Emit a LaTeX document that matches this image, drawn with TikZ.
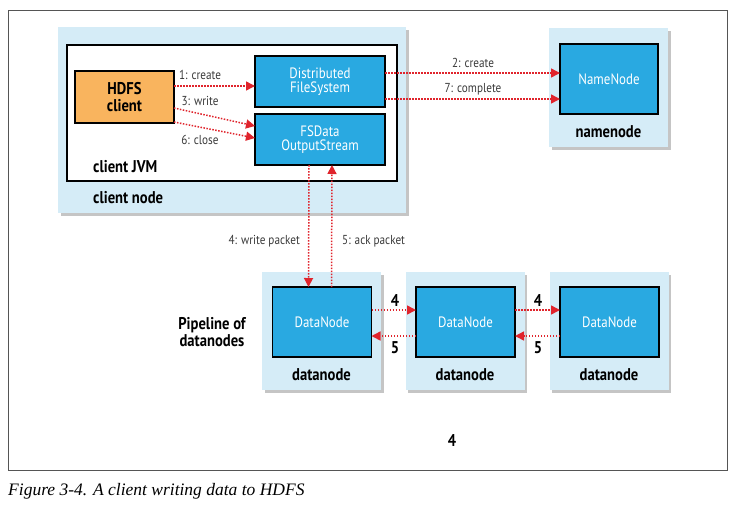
\documentclass[tikz,border=0pt]{standalone}
\usepackage{fontspec}
\setmainfont{PT Sans}[FakeStretch=0.86]
\newfontfamily\capfont{Liberation Serif}
\usetikzlibrary{arrows.meta,shadows,calc}
\definecolor{lightbox}{HTML}{D5ECF7}
\definecolor{darkbox}{HTML}{29A9E1}
\definecolor{orangebox}{HTML}{F9B45E}
\definecolor{redarr}{HTML}{E0242C}
\definecolor{labelgray}{HTML}{3A3A3A}
\definecolor{framegray}{HTML}{555555}
\begin{document}
\begin{tikzpicture}[x=1pt,y=-1pt,
  outerbox/.style={fill=lightbox,draw=none,inner sep=0,outer sep=0,
    drop shadow={shadow xshift=2.5pt,shadow yshift=-2.5pt,fill=black!45}},
  innerbox/.style={fill=darkbox,draw=black,line width=1.6pt,inner sep=0,outer sep=0,
    text=white,align=center,font=\fontsize{15}{16}\selectfont},
  jvmbox/.style={fill=white,draw=black,line width=1.4pt,inner sep=0,outer sep=0},
  clientbox/.style={fill=orangebox,draw=black,line width=1.6pt,inner sep=0,outer sep=0,
    align=center,font=\bfseries\fontsize{17}{18}\selectfont},
  arr/.style={draw=redarr,line width=1.5pt,dash pattern=on 1.5pt off 1.5pt,
    -{Triangle[length=9pt,width=9pt,fill=redarr]}},
  lbl/.style={text=labelgray,font=\fontsize{13}{14}\selectfont,inner sep=0},
  blbl/.style={text=black,font=\bfseries\fontsize{17}{18}\selectfont,inner sep=0,align=center},
]
\useasboundingbox (0,0) rectangle (735,507);
% outer frame
\node[draw=framegray,line width=0.9pt,minimum width=719pt,minimum height=460pt,inner sep=0] (frame) at (367.5,240) {};
% client node
\node[outerbox,minimum width=348pt,minimum height=186pt] (clientnode) at (232,120) {};
\node[jvmbox,minimum width=330pt,minimum height=136pt] (jvm) at (232,113) {};
\node[clientbox,minimum width=99pt,minimum height=52pt] (hdfs) at (124.5,97) {HDFS\\[-1pt]client};
\node[innerbox,minimum width=130pt,minimum height=51pt] (dfs) at (320,81.5) {Distributed\\[-2pt]FileSystem};
\node[innerbox,minimum width=130pt,minimum height=51pt] (fsd) at (320,139.5) {FSData\\[-2pt]OutputStream};
\node[blbl,anchor=west] (jvmlbl) at (93,167) {client JVM};
\node[blbl,anchor=west] (cnlbl) at (93,198) {client node};
% namenode
\node[outerbox,minimum width=119pt,minimum height=119pt] (nnbox) at (608.5,87.5) {};
\node[innerbox,minimum width=98pt,minimum height=70pt] (nn) at (609,79) {NameNode};
\node[blbl] (nnlbl) at (608.5,132) {namenode};
% datanodes
\foreach \i/\x in {1/321.5,2/465,3/609}{
  \node[outerbox,minimum width=119pt,minimum height=118pt] (dnbox\i) at (\x,331) {};
  \node[innerbox,minimum width=99pt,minimum height=70pt] (dn\i) at (\x+0.5,322) {DataNode};
  \node[blbl] (dnlbl\i) at (\x,375) {datanode};
}
\node[blbl] (pipe) at (212,332) {Pipeline of\\[-1pt]datanodes};
% arrows inside client
\draw[arr] ([yshift=11pt]hdfs.east) -- ([yshift=-4.5pt]dfs.west);
\draw[arr] ([yshift=-11pt]hdfs.east) -- ([yshift=13.5pt]fsd.west);
\draw[arr] ([yshift=-25pt]hdfs.east) -- ([yshift=1.5pt]fsd.west);
\node[lbl] (l1) at (200,75) {1: create};
\node[lbl] (l3) at (200,101) {3: write};
\node[lbl] (l6) at (200,140) {6: close};
% to namenode
\draw[arr] ([yshift=8.5pt]dfs.east) -- ([yshift=6pt]nn.west);
\draw[arr] ([yshift=-17.5pt]dfs.east) -- ([yshift=-20pt]nn.west);
\node[lbl] (l2) at (473,63) {2: create};
\node[lbl] (l7) at (473,89) {7: complete};
% write / ack packet
\draw[arr] ([xshift=-11pt]fsd.south) -- ([xshift=-13.5pt]dn1.north);
\draw[arr] ([xshift=9.5pt]dn1.north) -- ([xshift=12pt]fsd.south);
\node[lbl,anchor=east] (l4) at (300,241) {4: write packet};
\node[lbl,anchor=west] (l5) at (342,241) {5: ack packet};
% pipeline arrows
\draw[arr] ([yshift=12pt]dn1.east) -- ([yshift=12pt]dn2.west);
\draw[arr] ([yshift=-14pt]dn2.west) -- ([yshift=-14pt]dn1.east);
\draw[arr] ([yshift=12pt]dn2.east) -- ([yshift=12pt]dn3.west);
\draw[arr] ([yshift=-14pt]dn3.west) -- ([yshift=-14pt]dn2.east);
\node[blbl] (p41) at (395,300) {4};
\node[blbl] (p51) at (395,348) {5};
\node[blbl] (p42) at (538,300) {4};
\node[blbl] (p52) at (538,348) {5};
\node[blbl] (bottom4) at (452,440) {4};
% caption
\node[anchor=west,inner sep=0,font=\capfont\itshape\fontsize{17.5}{18}\selectfont] (cap) at (8,491) {Figure 3-4. A client writing data to HDFS};
\end{tikzpicture}
\end{document}
